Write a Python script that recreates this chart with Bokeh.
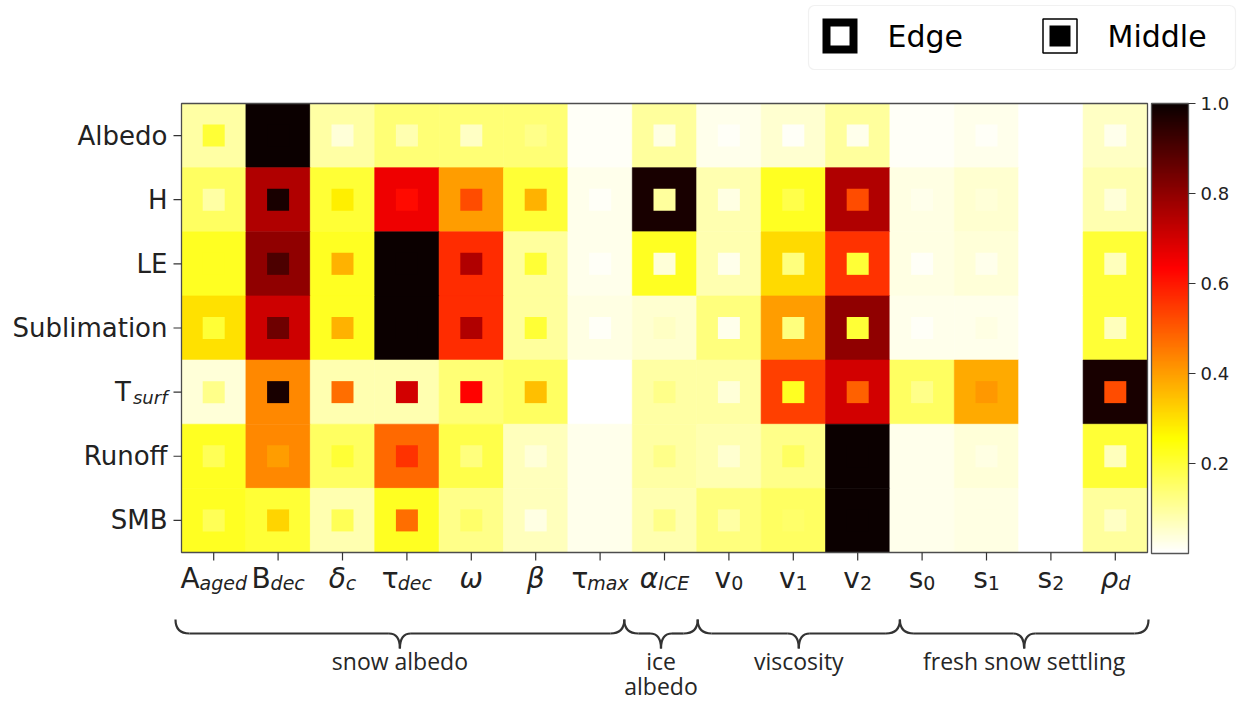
import numpy as np
from bokeh.plotting import figure
from bokeh.models import (ColumnDataSource, LinearColorMapper, ColorBar, FixedTicker,
                          PrintfTickFormatter, Range1d, BoxAnnotation)
from bokeh.transform import transform
from bokeh.core.properties import value
from bokeh.embed import file_html
from bokeh.resources import INLINE

# ---------------- data ----------------
rows = ["Albedo", "H", "LE", "Sublimation", "T", "Runoff", "SMB"]
row_subs = ["", "", "", "", "surf", "", ""]

col_main = ["A", "B", "δ", "τ", "ω", "β", "τ", "α", "v", "v", "v", "s", "s", "s", "ρ"]
col_sub = ["aged", "dec", "c", "dec", "", "", "max", "ICE", "0", "1", "2", "0", "1", "2", "d"]
col_main_italic = [False, False, True, False, True, True, False, True,
                   False, False, False, False, False, False, True]
col_sub_italic = [True, True, True, True, False, False, True, True,
                  False, False, False, False, False, False, True]

groups = ["snow albedo", "ice albedo", "viscosity", "fresh snow settling"]
group_first = [0, 7, 8, 11]
group_last = [6, 7, 10, 14]

albedo_edge = [0.09, 1.00, 0.09, 0.14, 0.14, 0.14, 0.01, 0.10, 0.02, 0.05, 0.10, 0.01, 0.02, 0.00, 0.06]
albedo_mid  = [0.20, 1.00, 0.04, 0.08, 0.06, 0.12, 0.01, 0.03, 0.01, 0.01, 0.02, 0.01, 0.01, 0.00, 0.02]
h_edge      = [0.16, 0.75, 0.20, 0.66, 0.40, 0.20, 0.02, 0.98, 0.08, 0.22, 0.75, 0.03, 0.05, 0.00, 0.08]
h_mid       = [0.09, 0.98, 0.28, 0.62, 0.52, 0.37, 0.01, 0.10, 0.03, 0.18, 0.52, 0.02, 0.04, 0.00, 0.04]
le_edge     = [0.22, 0.80, 0.22, 1.00, 0.57, 0.10, 0.02, 0.22, 0.08, 0.31, 0.56, 0.03, 0.04, 0.00, 0.20]
le_mid      = [0.22, 0.90, 0.37, 1.00, 0.75, 0.20, 0.01, 0.04, 0.02, 0.13, 0.20, 0.01, 0.02, 0.00, 0.07]
subl_edge   = [0.30, 0.71, 0.22, 1.00, 0.57, 0.10, 0.03, 0.05, 0.13, 0.40, 0.80, 0.02, 0.02, 0.00, 0.20]
subl_mid    = [0.20, 0.85, 0.37, 1.00, 0.75, 0.20, 0.01, 0.06, 0.02, 0.13, 0.20, 0.01, 0.03, 0.00, 0.07]
tsurf_edge  = [0.04, 0.43, 0.08, 0.08, 0.14, 0.16, 0.00, 0.09, 0.09, 0.54, 0.70, 0.16, 0.38, 0.00, 0.98]
tsurf_mid   = [0.12, 0.98, 0.47, 0.70, 0.63, 0.35, 0.00, 0.12, 0.04, 0.22, 0.49, 0.12, 0.41, 0.00, 0.52]
runoff_edge = [0.22, 0.43, 0.16, 0.48, 0.18, 0.07, 0.02, 0.09, 0.08, 0.12, 1.00, 0.02, 0.04, 0.00, 0.20]
runoff_mid  = [0.17, 0.40, 0.20, 0.56, 0.13, 0.04, 0.02, 0.12, 0.05, 0.16, 1.00, 0.02, 0.03, 0.00, 0.07]
smb_edge    = [0.22, 0.20, 0.08, 0.22, 0.12, 0.07, 0.02, 0.08, 0.13, 0.16, 1.00, 0.02, 0.03, 0.00, 0.10]
smb_mid     = [0.17, 0.32, 0.17, 0.47, 0.15, 0.03, 0.02, 0.12, 0.09, 0.15, 1.00, 0.02, 0.03, 0.00, 0.06]

edge_rows = [albedo_edge, h_edge, le_edge, subl_edge, tsurf_edge, runoff_edge, smb_edge]
mid_rows = [albedo_mid, h_mid, le_mid, subl_mid, tsurf_mid, runoff_mid, smb_mid]

cbar_ticks = [0.2, 0.4, 0.6, 0.8, 1.0]
legend_labels = ["Edge", "Middle"]

# ---------------- layout (pixels) ----------------
WIDTH, HEIGHT = 1249, 702
L, T = 181.0, 103.0          # heatmap frame left / top in pixels
CW, CH = 64.4, 64.14          # cell size in pixels
ncol, nrow = len(col_main), len(rows)
# small pixel nudges of the hand-drawn braces (style only)
brace_left_adj = [-6, -8, 1, 10]
brace_right_adj = [-8, 1, 10, 1]


def xd(px):
    return (px - L) / CW - 0.5


def yd(py):
    return (py - T) / CH - 0.5


# matplotlib "hot" reversed
def hot(x):
    r = np.interp(x, [0, 0.365079, 1], [0.0416, 1, 1])
    g = np.interp(x, [0, 0.365079, 0.746032, 1], [0, 0, 1, 1])
    b = np.interp(x, [0, 0.746032, 1], [0, 0, 1])
    return r, g, b


palette = []
for v in np.linspace(0, 1, 256):
    r, g, b = hot(1 - v)
    palette.append("#%02x%02x%02x" % (int(round(r * 255)), int(round(g * 255)), int(round(b * 255))))

mapper = LinearColorMapper(palette=palette, low=0.0, high=1.0)

p = figure(width=WIDTH, height=HEIGHT, output_backend="svg", toolbar_location=None,
           x_range=Range1d(xd(0), xd(WIDTH)), y_range=Range1d(yd(HEIGHT), yd(0)),
           x_axis_location=None, y_axis_location=None, min_border=0,
           background_fill_color="white", border_fill_color="white")
p.outline_line_color = None
p.xgrid.visible = False
p.ygrid.visible = False

# ---------------- heatmap ----------------
xs, ys, ev, mv = [], [], [], []
for i in range(nrow):
    for j in range(ncol):
        xs.append(j)
        ys.append(i)
        ev.append(edge_rows[i][j])
        mv.append(mid_rows[i][j])
src = ColumnDataSource(dict(col=xs, row=ys, edge=ev, mid=mv))

p.rect(x="col", y="row", width=1, height=1, source=src,
       fill_color=transform("edge", mapper), line_color=transform("edge", mapper), line_width=0.6)
p.rect(x="col", y="row", width=22, height=22, width_units="screen", height_units="screen", source=src,
       fill_color=transform("mid", mapper), line_color=None)

# frame
p.rect(x=[(ncol - 1) / 2], y=[(nrow - 1) / 2], width=ncol, height=nrow,
       fill_color=None, line_color="#4d4d4d", line_width=1.3)

# ticks
TICK = 8
p.segment(x0=[-0.5] * nrow, y0=list(range(nrow)), x1=[-0.5 - TICK / CW] * nrow, y1=list(range(nrow)),
          line_color="#333333", line_width=1.2)
p.segment(x0=list(range(ncol)), y0=[nrow - 0.5] * ncol, x1=list(range(ncol)), y1=[nrow - 0.5 + TICK / CH] * ncol,
          line_color="#333333", line_width=1.2)

# text metrics (DejaVu Sans advance widths, em)
EM = {"A": 0.684, "B": 0.686, "v": 0.592, "s": 0.521, "T": 0.611, "a": 0.613, "g": 0.635,
      "e": 0.615, "d": 0.635, "c": 0.550, "m": 0.974, "x": 0.592, "I": 0.295, "C": 0.698,
      "E": 0.632, "u": 0.634, "r": 0.411, "f": 0.352, "0": 0.636, "1": 0.636, "2": 0.636,
      "δ": 0.612, "τ": 0.568, "ω": 0.837, "β": 0.635, "α": 0.659, "ρ": 0.635}


def tw(s, size):
    return sum(EM.get(ch, 0.6) for ch in s) * size


TXT = "#222222"
FONT = value("DejaVu Sans")

# y labels
YL_SIZE, YS_SIZE = 26, 18
x_right = -0.5 - 14 / CW
for i, (lab, sub) in enumerate(zip(rows, row_subs)):
    wsub = tw(sub, YS_SIZE) if sub else 0
    p.text(x=[x_right], y=[i], text=[lab], x_offset=-wsub - (2 if sub else 0), y_offset=0,
           text_align="right", text_baseline="middle", text_font=FONT,
           text_font_size=f"{YL_SIZE}px", text_color=TXT)
    if sub:
        p.text(x=[x_right], y=[i], text=[sub], x_offset=-wsub, y_offset=5,
               text_align="left", text_baseline="middle", text_font=FONT, text_font_style="italic",
               text_font_size=f"{YS_SIZE}px", text_color=TXT)

# x labels
XM_SIZE, XS_SIZE = 28, 19
base_off = 26
for j in range(ncol):
    m, s = col_main[j], col_sub[j]
    wm, ws = tw(m, XM_SIZE), tw(s, XS_SIZE)
    start = -(wm + ws) / 2
    p.text(x=[j], y=[nrow - 0.5], text=[m], x_offset=start, y_offset=base_off,
           text_align="left", text_baseline="middle", text_font=FONT,
           text_font_style="italic" if col_main_italic[j] else "normal",
           text_font_size=f"{XM_SIZE}px", text_color=TXT)
    if s:
        p.text(x=[j], y=[nrow - 0.5], text=[s], x_offset=start + wm, y_offset=base_off + 5,
               text_align="left", text_baseline="middle", text_font=FONT,
               text_font_style="italic" if col_sub_italic[j] else "normal",
               text_font_size=f"{XS_SIZE}px", text_color=TXT)

# braces and group labels
ya, yl, yt = yd(619), yd(633), yd(648)
r_h, t_w = 14 / CW, 11 / CW
q = dict(x0=[], y0=[], x1=[], y1=[], cx=[], cy=[])
sg = dict(x0=[], y0=[], x1=[], y1=[])


def addq(x0, y0, x1, y1, cx, cy):
    for k, v in zip(["x0", "y0", "x1", "y1", "cx", "cy"], [x0, y0, x1, y1, cx, cy]):
        q[k].append(v)


for name, f, l, la, ra in zip(groups, group_first, group_last, brace_left_adj, brace_right_adj):
    xa, xb = f - 0.5 + la / CW, l + 0.5 + ra / CW
    xm = (xa + xb) / 2
    addq(xa, ya, xa + r_h, yl, xa, yl)
    addq(xb, ya, xb - r_h, yl, xb, yl)
    addq(xm - t_w, yl, xm, yt, xm, yl)
    addq(xm + t_w, yl, xm, yt, xm, yl)
    sg["x0"] += [xa + r_h, xm + t_w]
    sg["x1"] += [xm - t_w, xb - r_h]
    sg["y0"] += [yl, yl]
    sg["y1"] += [yl, yl]
    lines = name.split(" ") if (l - f) == 0 else [name]
    for k, ln in enumerate(lines):
        p.text(x=[xm], y=[yd(660 + 25 * k)], text=[ln], text_align="center", text_baseline="middle",
               text_font=value("Open Sans"), text_font_size="23px", text_color="#262626")

p.quadratic(x0="x0", y0="y0", x1="x1", y1="y1", cx="cx", cy="cy", source=ColumnDataSource(q),
            line_color="#333333", line_width=2.2)
p.segment(x0="x0", y0="y0", x1="x1", y1="y1", source=ColumnDataSource(sg),
          line_color="#333333", line_width=2.2)

# colorbar
cb = ColorBar(color_mapper=mapper, location=(1151, HEIGHT - 553), width=37, height=450,
              padding=0, margin=0, ticker=FixedTicker(ticks=cbar_ticks),
              formatter=PrintfTickFormatter(format="%.1f"),
              major_label_text_font="DejaVu Sans", major_label_text_font_size="18px",
              major_label_text_color=TXT, major_tick_out=7, major_tick_in=0,
              major_tick_line_color="#333333", minor_tick_line_color=None, label_standoff=5,
              bar_line_color="#555555", bar_line_width=1.3,
              background_fill_alpha=0, border_line_color=None)
p.add_layout(cb)

# legend
p.add_layout(BoxAnnotation(left=xd(808), right=xd(1235), top=yd(5), bottom=yd(69),
                           fill_color="white", fill_alpha=1, line_color="#d0d0d0",
                           line_width=1.2, border_radius=6, level="underlay"))
p.rect(x=[xd(839.5)], y=[yd(35.5)], width=27, height=27, width_units="screen", height_units="screen",
       fill_color="white", line_color="black", line_width=8, line_join="miter")
p.rect(x=[xd(1059.5)], y=[yd(35.5)], width=34, height=34, width_units="screen", height_units="screen",
       fill_color="white", line_color="black", line_width=1.5)
p.rect(x=[xd(1059.5)], y=[yd(35.5)], width=21, height=21, width_units="screen", height_units="screen",
       fill_color="black", line_color=None)
p.text(x=[xd(887), xd(1107)], y=[yd(36), yd(36)], text=legend_labels, text_align="left",
       text_baseline="middle", text_font=FONT, text_font_size="30px", text_color="black")

open("out.html", "w").write(file_html(p, INLINE))
